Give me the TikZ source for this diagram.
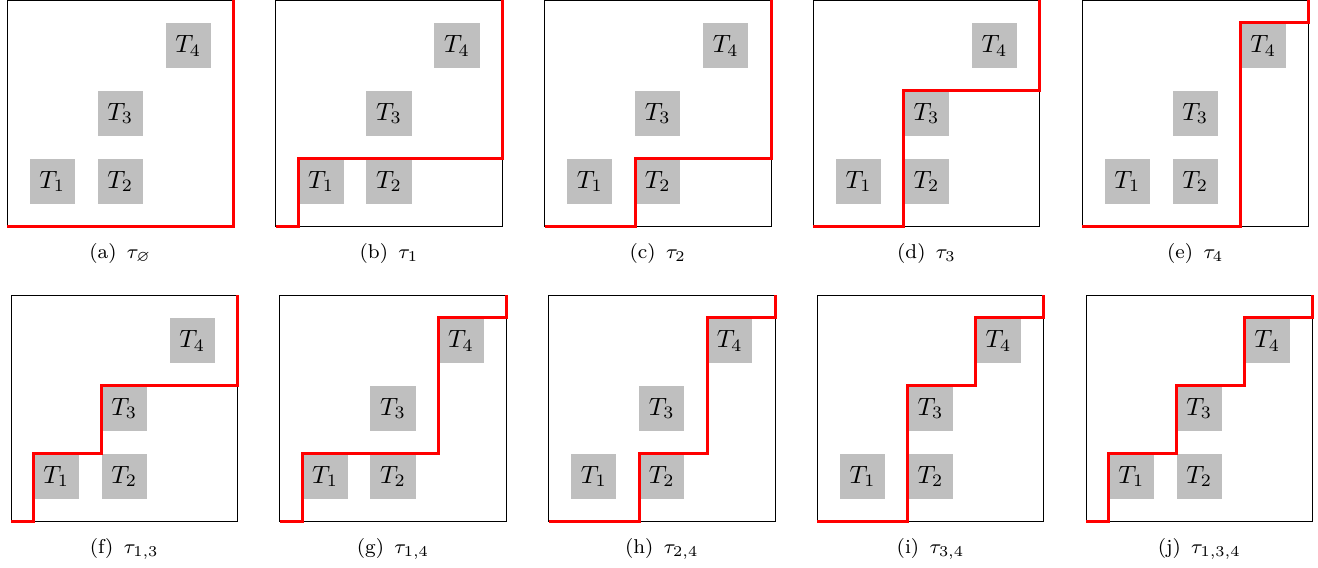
\documentclass[tikz,border=0pt]{standalone}
\usepackage{amssymb}

\tikzset{
  task/.style={fill=gray!50, minimum size=18.12pt, inner sep=0pt, outer sep=0pt},
  frame/.style={thin},
  cut/.style={red, line width=1.2pt},
}

\begin{document}
\begin{tikzpicture}[x=0.4pt,y=0.4pt]
\useasboundingbox (0,0) rectangle (1318,567);

% PANELS: tasks, frame and caption
\foreach \p/\c/\r/\s in {a/0/0/\varnothing, b/1/0/1, c/2/0/2, d/3/0/3, e/4/0/4,
                         f/0/1/{1,3}, g/1/1/{1,4}, h/2/1/{2,4}, i/3/1/{3,4}, j/4/1/{1,3,4}}{
 \begin{scope}[shift={(7+268.75*\c+4*\r, 340.2-295*\r)}, x=90.6pt, y=90.6pt]
  \node[task] (\p1) at (0.2,0.2) {$T_1$};
  \node[task] (\p2) at (0.5,0.2) {$T_2$};
  \node[task] (\p3) at (0.5,0.5) {$T_3$};
  \node[task] (\p4) at (0.8,0.8) {$T_4$};
  \draw[frame] (0,0) coordinate (\p0) rectangle (1,1) coordinate (\p5);
  \node (\p-cap) at (0.5,-0.12) {\footnotesize (\p)\, $\tau_{\s}$};
 \end{scope}
}

% CUTS
\draw[cut] (a0) -| (a5);
\draw[cut] (b0) -| (b1.north west) -| (b5);
\draw[cut] (c0) -| (c2.north west) -| (c5);
\draw[cut] (d0) -| (d3.north west) -| (d5);
\draw[cut] (e0) -| (e4.north west) -| (e5);

\draw[cut] (f0) -| (f1.north west) -| (f3.north west) -| (f5);
\draw[cut] (g0) -| (g1.north west) -| (g4.north west) -| (g5);
\draw[cut] (h0) -| (h2.north west) -| (h4.north west) -| (h5);
\draw[cut] (i0) -| (i3.north west) -| (i4.north west) -| (i5);
\draw[cut] (j0) -| (j1.north west) -| (j3.north west) -| (j4.north west) -| (j5);

\end{tikzpicture}
\end{document}
